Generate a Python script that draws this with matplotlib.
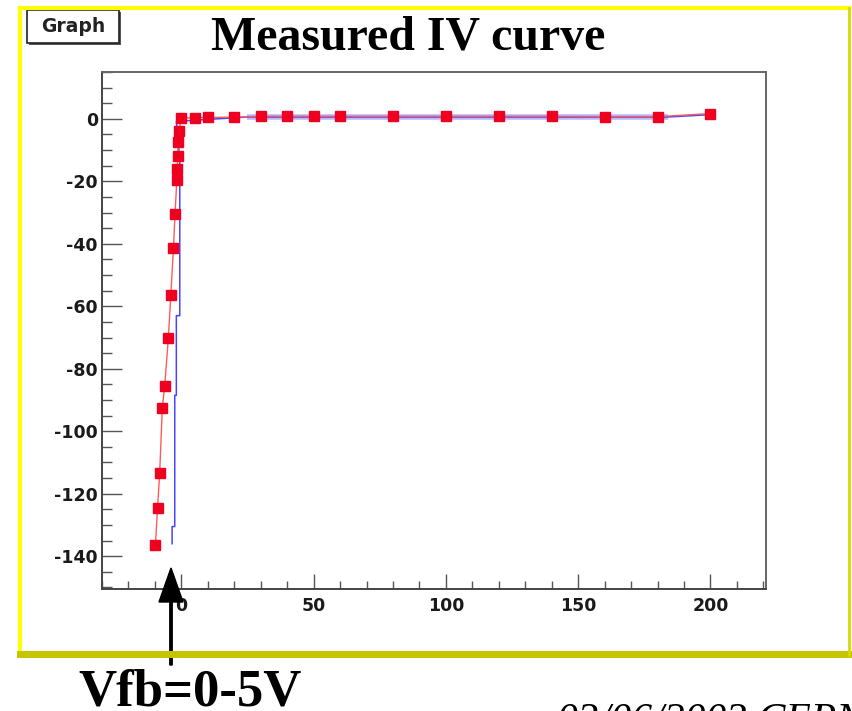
import matplotlib
matplotlib.use("Agg")
import matplotlib.pyplot as plt
from matplotlib.lines import Line2D
from matplotlib.patches import Rectangle, FancyArrow
from matplotlib.ticker import MultipleLocator

plt.rcParams["axes.unicode_minus"] = False

# measured points (V, current)
volt = [-9.8, -9.0, -8.2, -7.2, -6.3, -4.9, -4.0, -3.0, -2.4, -1.7,
        -1.5, -1.4, -1.2, -1.0, 0, 5, 10, 20, 30, 40, 50, 60,
        80, 100, 120, 140, 160, 180, 200]
curr = [-136.5, -124.5, -113.5, -92.5, -85.5, -70, -56.5, -41.5, -30.5, -19.5,
        -16, -12, -7.5, -4, 0.3, 0.3, 0.5, 0.5, 0.8, 0.8, 0.8, 0.8,
        0.8, 0.8, 0.8, 0.8, 0.7, 0.7, 1.7]

# second (blue) curve
blue_x = [-3.5, -3.5, -2.5, -2.5, -1.9, -1.9, -0.6, -0.6, -1.9, 25, 100, 184, 199]
blue_y = [-136, -130.5, -130.5, -88.5, -88.5, -63, -63, -13, -0.8, 0.6, 0.6, 0.6, 1.3]

x_ticks = [0, 50, 100, 150, 200]
y_ticks = [0, -20, -40, -60, -80, -100, -120, -140]

W, H = 852, 711
fig = plt.figure(figsize=(W / 100, H / 100), dpi=100)


def fx(px):
    return px / W


def fy(py):
    return 1 - py / H


# slide frame
frame = [((20, 8), (849, 8), "#ffff00", 3),
         ((20, 8), (20, 655), "#ffff00", 3),
         ((20, 654), (849, 654), "#c4c400", 5),
         ((849, 8), (849, 655), "#d8d800", 2)]
for (x0, y0), (x1, y1), c, lw in frame:
    fig.add_artist(Line2D([fx(x0), fx(x1)], [fy(y0), fy(y1)], color=c, lw=lw,
                          transform=fig.transFigure))

ax = fig.add_axes([fx(102), fy(589), fx(766) - fx(102), fy(72) - fy(589)])

# light band under the flat part of the blue curve
band = [i for i, v in enumerate(blue_x) if v >= 25 and v <= 184]
ax.plot([blue_x[i] for i in band], [blue_y[i] for i in band],
        color="#b8b8ff", lw=4, solid_capstyle="butt", zorder=1)
ax.plot(blue_x, blue_y, color="#4646ff", lw=1.1, zorder=2)
ax.plot(volt, curr, color="#ff5a5a", lw=1, zorder=3)
ax.plot(volt, curr, ls="none", marker="s", ms=7.8, color="#f00020",
        mec="#f00020", zorder=4)

ax.set_xlim(-30, 221)
ax.set_ylim(-150.5, 15)
ax.set_xticks(x_ticks)
ax.set_yticks(y_ticks)
ax.xaxis.set_minor_locator(MultipleLocator(10))
ax.yaxis.set_minor_locator(MultipleLocator(5))
ax.tick_params(axis="y", which="major", direction="in", length=14.4, width=1,
               color="#555555", pad=3)
ax.tick_params(axis="y", which="minor", direction="in", length=7.2, width=1,
               color="#555555")
ax.tick_params(axis="x", which="major", direction="in", length=11, width=1,
               color="#555555", pad=6)
ax.tick_params(axis="x", which="minor", direction="in", length=5.5, width=1,
               color="#555555")
for lab in ax.get_xticklabels() + ax.get_yticklabels():
    lab.set_fontfamily("DejaVu Sans")
    lab.set_fontweight("bold")
    lab.set_fontsize(12.5)
    lab.set_color("#1a1a1a")
for side in ["left", "bottom"]:
    ax.spines[side].set_color("#444444")
    ax.spines[side].set_linewidth(1.4)
for side in ["top", "right"]:
    ax.spines[side].set_color("#666666")
    ax.spines[side].set_linewidth(1.4)

# "Graph" label box
fig.add_artist(Rectangle((fx(29), fy(45)), fx(121) - fx(29), fy(12) - fy(45),
                         transform=fig.transFigure, facecolor="#555555",
                         edgecolor="none"))
fig.add_artist(Rectangle((fx(27), fy(43)), fx(119) - fx(27), fy(10) - fy(43),
                         transform=fig.transFigure, facecolor="white",
                         edgecolor="#222222", lw=1.2))
fig.text(fx(73), fy(27), "Graph", ha="center", va="center",
         family="DejaVu Sans", weight="bold", fontsize=13.5, color="#222222")

fig.text(fx(408), fy(38), "Measured IV curve", ha="center", va="center",
         family="Liberation Serif", weight="bold", fontsize=34.5)

# arrow pointing at the flat-band voltage
fig.add_artist(FancyArrow(fx(171), fy(665), 0, fy(568) - fy(665),
                          width=2 / H, head_width=24 / W, head_length=34 / H,
                          length_includes_head=True, color="black",
                          transform=fig.transFigure))
fig.text(fx(78), fy(706), "Vfb=0-5V", ha="left", va="baseline",
         family="Liberation Serif", weight="bold", fontsize=38)
fig.text(fx(557), fy(702), "03/06/2003 CERN", ha="left", va="top",
         family="Liberation Serif", style="italic", fontsize=30)

fig.savefig("out.png", dpi=100)
